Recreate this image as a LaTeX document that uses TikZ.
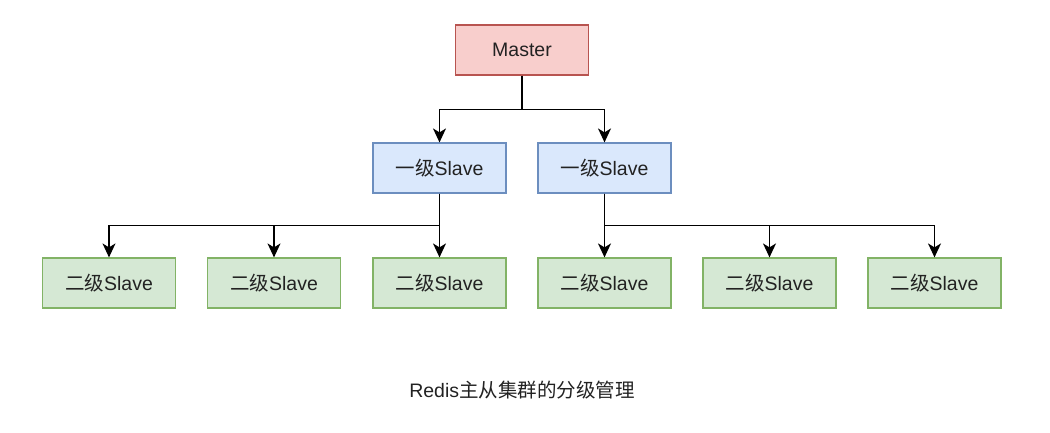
\documentclass[tikz,border=0pt]{standalone}
\usepackage{fontspec}
\setmainfont{Liberation Sans}
\newfontfamily\cjk{Noto Sans CJK SC}
\usetikzlibrary{positioning,arrows.meta}
\definecolor{masterfill}{HTML}{F8CECC}
\definecolor{masterdraw}{HTML}{B85450}
\definecolor{onefill}{HTML}{DAE8FC}
\definecolor{onedraw}{HTML}{6C8EBF}
\definecolor{twofill}{HTML}{D5E8D4}
\definecolor{twodraw}{HTML}{82B366}
\definecolor{txt}{HTML}{222222}
\newcommand{\zh}[1]{{\cjk #1}}
\begin{document}
\begin{tikzpicture}[x=1pt, y=-1pt,
        every node/.style={font=\fontsize{19.5}{23}\selectfont, text=txt},
        box/.style={rectangle, line width=1.2pt, minimum width=133pt, minimum height=50pt, inner sep=0pt},
        master/.style={box, fill=masterfill, draw=masterdraw},
        first/.style={box, fill=onefill, draw=onedraw},
        second/.style={box, fill=twofill, draw=twodraw},
        arrow/.style={line width=1.4pt, -{Stealth[length=14pt, width=13pt, inset=4pt]}}
    ]
        \useasboundingbox (0,0) rectangle (1050,432);

        % Master
        \node[master] (m) at (522, 50) {Master};

        % First level slaves
        \node[first] (l1) at (439.5, 168) {\zh{一级}Slave};
        \node[first] (l2) at (604.5, 168) {\zh{一级}Slave};

        % Second level slaves
        \foreach \i/\x in {1/109, 2/274, 3/439.5, 4/604.5, 5/769.5, 6/934.5}
            \node[second] (s\i) at (\x, 283) {\zh{二级}Slave};

        % Connections
        \draw[arrow] (m.south) -- ++(0,34) -| (l1.north);
        \draw[arrow] (m.south) -- ++(0,34) -| (l2.north);
        \foreach \i in {1,2,3}
            \draw[arrow] (l1.south) -- ++(0,32) -| (s\i.north);
        \foreach \i in {4,5,6}
            \draw[arrow] (l2.south) -- ++(0,32) -| (s\i.north);

        % Caption
        \node (cap) at (522, 390) {Redis\zh{主从集群的分级管理}};
    \end{tikzpicture}
\end{document}
